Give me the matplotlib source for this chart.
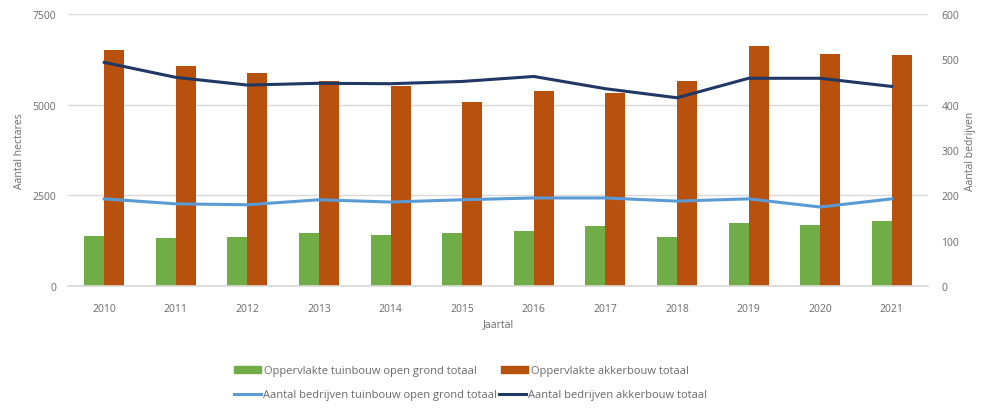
import matplotlib
matplotlib.use("Agg")
import matplotlib.pyplot as plt
import numpy as np
from matplotlib.patches import Patch
from matplotlib.lines import Line2D

years = ["2010", "2011", "2012", "2013", "2014", "2015", "2016", "2017", "2018", "2019", "2020", "2021"]
opp_tuinbouw = [1370, 1315, 1350, 1460, 1415, 1460, 1505, 1645, 1360, 1735, 1690, 1785]
opp_akkerbouw = [6500, 6060, 5865, 5660, 5525, 5065, 5375, 5315, 5660, 6610, 6395, 6370]
bedr_tuinbouw = [192, 181, 179, 190, 185, 190, 194, 194, 187, 192, 174, 192]
bedr_akkerbouw = [493, 460, 443, 447, 446, 451, 462, 435, 415, 458, 458, 440]

green = "#70ad47"
orange = "#b8500e"
light = "#5b9bd5"
dark = "#203864"
txt = "#6a6a6a"
grid = "#d9d9d9"

plt.rcParams['font.family'] = ['Open Sans', 'DejaVu Sans']

fig = plt.figure(figsize=(10.01, 4.14), dpi=100)
ax = fig.add_axes([0.0684, 0.307, 0.8582, 0.657])
x = np.arange(len(years))
w = 0.28
ax.bar(x - w / 2, opp_tuinbouw, w, color=green, zorder=2)
ax.bar(x + w / 2, opp_akkerbouw, w, color=orange, zorder=2)
ax.set_xlim(-0.5, len(years) - 0.5)
ax.set_ylim(0, 7500)
ax.set_yticks([0, 2500, 5000, 7500])
ax.yaxis.grid(True, color=grid, linewidth=1, zorder=0)
ax.set_axisbelow(True)
for s in ["top", "right", "left"]:
    ax.spines[s].set_visible(False)
ax.spines["bottom"].set_color(grid)
ax.spines["bottom"].set_linewidth(1.2)
ax.set_xticks(x)
ax.set_xticklabels(years)
ax.tick_params(axis="both", length=0, colors=txt, labelsize=7.5)
ax.tick_params(axis="x", pad=12)
ax.tick_params(axis="y", pad=9)
ax.set_ylabel("Aantal hectares", color=txt, fontsize=7.5, labelpad=5)
ax.set_xlabel("Jaartal", color=txt, fontsize=7.5, labelpad=3)

ax2 = ax.twinx()
ax2.plot(x, bedr_tuinbouw, color=light, linewidth=2.2, zorder=3)
ax2.plot(x, bedr_akkerbouw, color=dark, linewidth=2.2, zorder=3)
ax2.set_ylim(0, 600)
ax2.set_yticks([0, 100, 200, 300, 400, 500, 600])
for s in ["top", "right", "left", "bottom"]:
    ax2.spines[s].set_visible(False)
ax2.tick_params(axis="y", length=0, colors=txt, labelsize=7.5, pad=10)
ax2.set_ylabel("Aantal bedrijven", color=txt, fontsize=7.5, labelpad=4)

leg1 = fig.legend(handles=[Patch(color=green, label="Oppervlakte tuinbouw open grond totaal"),
                           Patch(color=orange, label="Oppervlakte akkerbouw totaal")],
                  loc="center", bbox_to_anchor=(0.461, 1 - 372 / 414), ncol=2, frameon=False,
                  fontsize=8, handlelength=2.4, handleheight=0.55, columnspacing=2.2, handletextpad=0.25)
for t in leg1.get_texts():
    t.set_color(txt)
leg2 = fig.legend(handles=[Line2D([], [], color=light, linewidth=2.2, label="Aantal bedrijven tuinbouw open grond totaal"),
                           Line2D([], [], color=dark, linewidth=2.2, label="Aantal bedrijven akkerbouw totaal")],
                  loc="center", bbox_to_anchor=(0.47, 1 - 396 / 414), ncol=2, frameon=False,
                  fontsize=8, handlelength=2.4, columnspacing=0.2, handletextpad=0.2)
for t in leg2.get_texts():
    t.set_color(txt)

fig.savefig("out.png", dpi=100, facecolor="white")
